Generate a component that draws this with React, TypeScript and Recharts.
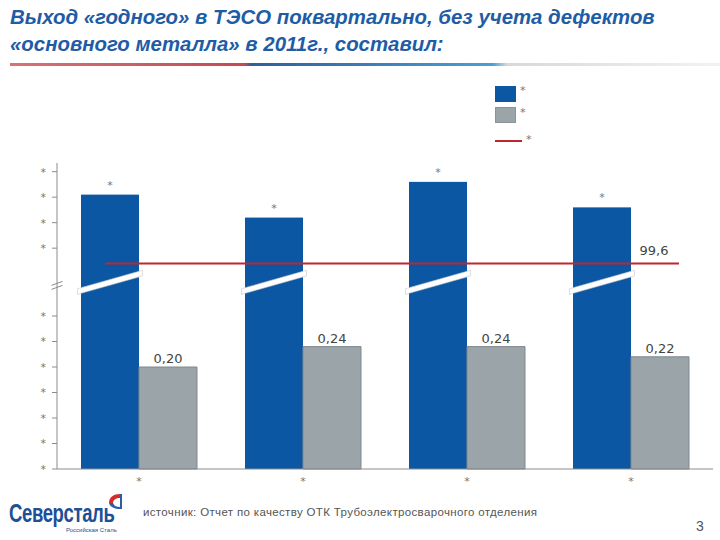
import React from 'react';
import { ComposedChart, Bar, XAxis, YAxis, ReferenceLine, LabelList } from 'recharts';

// ---------- data ----------
const categories = ['Q1', 'Q2', 'Q3', 'Q4'];
const categoryLabels = ['*', '*', '*', '*'];
const yieldValues = [99.87, 99.78, 99.92, 99.82]; // blue, label hidden ("*")
const defectValues = [0.2, 0.24, 0.24, 0.22]; // gray
const targetValue = 99.6;
const lowerTicks = [0, 0.05, 0.1, 0.15, 0.2, 0.25, 0.3];
const upperTicks = [99.66, 99.76, 99.86, 99.96];
const legendLabels = ['*', '*', '*'];
const titleLines = [
  'Выход «годного» в ТЭСО поквартально, без учета дефектов',
  '«основного металла» в 2011г., составил:',
];
const sourceText = 'источник: Отчет по качеству ОТК Трубоэлектросварочного отделения';

// ---------- broken axis transform ----------
const BREAK_AT = 0.366;
const toAxis = (v: number) => (v < 50 ? v : 0.403 + (v - 99.6) * 0.5);

const BLUE = '#0b57a4';
const GRAY = '#9ba4a9';
const RED = '#c0272d';
const AXIS = '#8c8c8c';
const FONT = '"DejaVu Sans", Verdana, sans-serif';

const data = categories.map((c, i) => ({
  cat: c,
  label: categoryLabels[i],
  yieldAxis: toAxis(yieldValues[i]),
  yieldRaw: yieldValues[i],
  defect: defectValues[i],
}));

const axisTicks = [...lowerTicks, ...upperTicks.map(toAxis)];

const BlueShape = (props: any) => {
  const { x, y, width, height, payload } = props;
  const base = y + height;
  const pxPerUnit = height / payload.yieldAxis;
  const by = base - BREAK_AT * pxPerUnit;
  const cx = x + width / 2;
  const slope = 0.283;
  const xl = x - 3.5;
  const xr = x + width + 3.5;
  const yl = by + slope * (cx - xl);
  const yr = by - slope * (xr - cx);
  const t = 2.8;
  return (
    <g>
      <rect x={x} y={y} width={width} height={height} fill={BLUE} />
      <polygon
        points={`${xl},${yl - t} ${xr},${yr - t} ${xr},${yr + t} ${xl},${yl + t}`}
        fill="#ffffff"
        stroke="#c8c8c8"
        strokeWidth={0.6}
      />
    </g>
  );
};

const TargetShape = (props: any) => {
  const { x1, x2, y1 } = props;
  if (x1 == null) return <g />;
  return (
    <g>
      <line x1={x1 + 48} x2={x2 - 34} y1={y1} y2={y1} stroke={RED} strokeWidth={2} />
      <text x={x2 - 59} y={y1 - 8} textAnchor="middle" fontSize={13} fill="#444" fontFamily={FONT}>
        {String(targetValue).replace('.', ',')}
      </text>
    </g>
  );
};

const AxisBreakShape = (props: any) => {
  const { x1, y1 } = props;
  if (x1 == null) return <g />;
  return (
    <g>
      <rect x={x1 - 3} y={y1 - 4} width={6} height={8} fill="#ffffff" />
      <line x1={x1 - 5.5} y1={y1 + 0.5} x2={x1 + 5.5} y2={y1 - 3.5} stroke={AXIS} strokeWidth={1} />
      <line x1={x1 - 5.5} y1={y1 + 4.5} x2={x1 + 5.5} y2={y1 + 0.5} stroke={AXIS} strokeWidth={1} />
    </g>
  );
};

const LogoIcon = () => (
  <svg width={18} height={18} style={{ position: 'absolute', left: 106, top: 493 }}>
    <path d="M3 10 C3 4 8 1 14 1 L14 5 C10 5 7 7 7 10 Z" fill="#d42b2b" />
    <path d="M14 1 L16 1 L16 16 L14 16 Z" fill="#2b5ea8" />
    <path d="M7 10 C8 13 11 14 14 14 L14 16 C9 16 4 14 3 10 Z" fill="#2b5ea8" />
  </svg>
);

export default function App() {
  return (
    <div style={{ position: 'fixed', left: 0, top: 0, width: 720, height: 540, background: '#fff', overflow: 'hidden' }}>
      {/* title */}
      <div
        style={{
          position: 'absolute',
          left: 10,
          top: 4,
          fontFamily: '"Liberation Sans", Arial, sans-serif',
          fontWeight: 'bold',
          fontStyle: 'italic',
          fontSize: 20.4,
          lineHeight: '27px',
          color: '#1e5ca6',
          whiteSpace: 'nowrap',
        }}
      >
        {titleLines.map((t, i) => (
          <div key={i}>{t}</div>
        ))}
      </div>
      <div
        style={{
          position: 'absolute',
          left: 10,
          top: 63,
          width: 710,
          height: 3,
          background:
            'linear-gradient(to right, #d67373 0%, #c44a55 33%, #2f5e9e 34%, #4a9fd6 68%, #d8d8d8 70%, #f2f2f2 100%)',
        }}
      />

      {/* legend */}
      <div style={{ position: 'absolute', left: 0, top: 0, fontFamily: FONT, color: '#777', fontSize: 11 }}>
        <div style={{ position: 'absolute', left: 495, top: 86, width: 21, height: 16, background: BLUE }} />
        <div style={{ position: 'absolute', left: 520, top: 84 }}>{legendLabels[0]}</div>
        <div style={{ position: 'absolute', left: 495, top: 107, width: 21, height: 16, background: GRAY, boxSizing: 'border-box', border: '1px solid #8a9499' }} />
        <div style={{ position: 'absolute', left: 520, top: 106 }}>{legendLabels[1]}</div>
        <div style={{ position: 'absolute', left: 495, top: 139.5, width: 27, height: 2.5, background: RED }} />
        <div style={{ position: 'absolute', left: 526, top: 133 }}>{legendLabels[2]}</div>
      </div>

      <div style={{ position: 'absolute', left: 0, top: 0 }}>
        <ComposedChart
          width={720}
          height={499}
          data={data}
          margin={{ top: 163, right: 7, left: 0, bottom: 0 }}
          barGap={0}
        >
          <XAxis
            dataKey="cat"
            tickFormatter={(v: string, i: number) => categoryLabels[i] ?? '*'}
            axisLine={{ stroke: AXIS }}
            tickLine={false}
            tick={{ fill: '#777', fontSize: 11, fontFamily: FONT }}
            height={30}
          />
          <YAxis
            type="number"
            domain={[0, 0.6]}
            ticks={axisTicks}
            interval={0}
            tickFormatter={() => '*'}
            axisLine={{ stroke: AXIS }}
            tickLine={{ stroke: AXIS }}
            tickSize={5}
            tickMargin={6}
            tick={{ fill: '#777', fontSize: 11, fontFamily: FONT }}
            width={57}
          />
          <Bar dataKey="yieldAxis" fill={BLUE} barSize={58} shape={BlueShape} isAnimationActive={false}>
            <LabelList
              dataKey="yieldRaw"
              position="top"
              offset={6}
              formatter={() => '*'}
              fill="#777"
              fontSize={11}
              fontFamily={FONT}
            />
          </Bar>
          <Bar dataKey="defect" fill={GRAY} stroke="#7f898e" strokeWidth={1} barSize={58} isAnimationActive={false}>
            <LabelList
              dataKey="defect"
              position="top"
              offset={4}
              formatter={(v: number) => v.toFixed(2).replace('.', ',')}
              fill="#444"
              fontSize={13}
              fontFamily={FONT}
            />
          </Bar>
          <ReferenceLine y={toAxis(targetValue)} shape={TargetShape} />
          <ReferenceLine y={BREAK_AT - 0.005} shape={AxisBreakShape} />
        </ComposedChart>
      </div>

      {/* footer */}
      <div
        style={{
          position: 'absolute',
          left: 9,
          top: 499,
          fontFamily: '"Liberation Sans", Arial, sans-serif',
          fontWeight: 'bold',
          fontSize: 25,
          color: '#1d5096',
          letterSpacing: -0.5,
          transform: 'scaleX(0.74)',
          transformOrigin: 'left top',
          whiteSpace: 'nowrap',
        }}
      >
        Северсталь
      </div>
      <div
        style={{
          position: 'absolute',
          left: 66,
          top: 527,
          fontFamily: '"Liberation Sans", Arial, sans-serif',
          fontSize: 6,
          color: '#1d5096',
          whiteSpace: 'nowrap',
        }}
      >
        Российская Сталь
      </div>
      <LogoIcon />
      <div
        style={{
          position: 'absolute',
          left: 143,
          top: 506,
          fontFamily: '"Liberation Sans", Arial, sans-serif',
          fontSize: 11.5,
          letterSpacing: 0.35,
          color: '#555',
          whiteSpace: 'nowrap',
        }}
      >
        {sourceText}
      </div>
      <div
        style={{
          position: 'absolute',
          left: 696,
          top: 518,
          fontFamily: '"Liberation Sans", Arial, sans-serif',
          fontSize: 14,
          color: '#555',
        }}
      >
        3
      </div>
    </div>
  );
}
